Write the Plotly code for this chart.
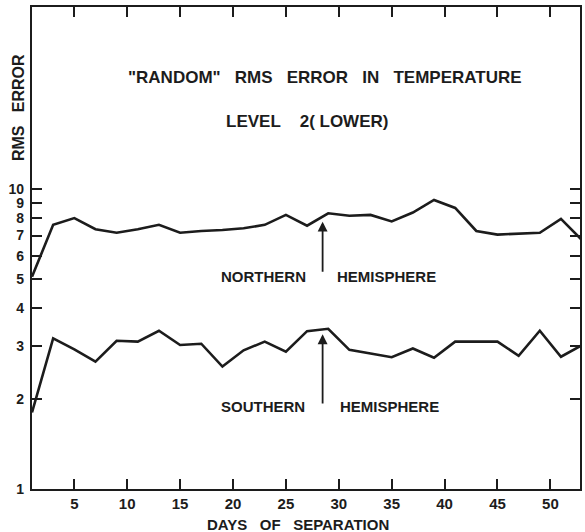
import plotly.graph_objects as go

# Days of separation (every second day)
days = [1, 3, 5, 7, 9, 11, 13, 15, 17, 19, 21, 23, 25, 27,
        29, 31, 33, 35, 37, 39, 41, 43, 45, 47, 49, 51, 53]

# RMS error, northern hemisphere
northern = [5.1, 7.6, 8.0, 7.35, 7.15, 7.35, 7.6, 7.15, 7.25, 7.3, 7.4, 7.6, 8.2, 7.55,
            8.3, 8.15, 8.2, 7.8, 8.35, 9.2, 8.65, 7.25, 7.05, 7.1, 7.15, 7.95, 6.75]

# RMS error, southern hemisphere
southern = [1.8, 3.18, 2.92, 2.66, 3.12, 3.1, 3.37, 3.02, 3.05, 2.56, 2.9, 3.1, 2.87, 3.36,
            3.42, 2.91, 2.83, 2.75, 2.94, 2.74, 3.1, 3.1, 3.1, 2.78, 3.37, 2.76, 3.02]

x_ticks = [5, 10, 15, 20, 25, 30, 35, 40, 45, 50]
y_ticks = [1, 2, 3, 4, 5, 6, 7, 8, 9, 10]
y_tick_labels = [str(v) for v in y_ticks]

INK = "#1c1c1c"
FONT = "Liberation Sans Narrow, Arial Narrow, Liberation Sans, sans-serif"
NB = "\u00a0"

fig = go.Figure()
for series in (northern, southern):
    fig.add_trace(go.Scatter(
        x=days, y=series, mode="lines",
        line=dict(color=INK, width=2.6),
        showlegend=False, hoverinfo="skip",
    ))

axis_common = dict(
    showline=True, linecolor=INK, linewidth=2.2, mirror="ticks",
    ticks="inside", ticklen=10, tickwidth=2, tickcolor=INK,
    showgrid=False, zeroline=False,
)

fig.update_xaxes(
    range=[1, 52.8], tickvals=x_ticks,
    tickfont=dict(family=FONT, size=15, color=INK, weight="bold"),
    **axis_common,
)
fig.update_yaxes(
    type="log", range=[0, 1.607], tickvals=y_ticks, ticktext=y_tick_labels,
    ticklabelstandoff=3,
    tickfont=dict(family=FONT, size=14, color=INK, weight="bold"),
    **axis_common,
)

def label(text, px, py, size=15, angle=0):
    # place text by pixel position inside the 585x532 page
    fig.add_annotation(
        text=text, xref="paper", yref="paper",
        x=(px - 32) / 550, y=(489 - py) / 482,
        showarrow=False, xanchor="center", yanchor="middle", textangle=angle,
        font=dict(family=FONT, size=size, color=INK, weight="bold"),
    )

label('"RANDOM"' + NB * 3 + "RMS" + NB * 3 + "ERROR" + NB * 3 + "IN" + NB * 3 + "TEMPERATURE", 326, 77, 17)
label("LEVEL" + NB * 4 + "2(" + NB + "LOWER)", 308, 121, 17)
label("NORTHERN", 264, 276)
label("HEMISPHERE", 388, 276)
label("SOUTHERN", 264, 406)
label("HEMISPHERE", 391, 406)
label("RMS" + NB * 3 + "ERROR", 18, 108, 16, angle=-90)
label("DAYS" + NB * 3 + "OF" + NB * 3 + "SEPARATION", 299, 524, 15)

# pointers to day 28.5
for tip_py, tail_py in ((221.7, 273.3), (334.3, 405.0)):
    fig.add_annotation(
        x=28.47, xref="x", y=(489 - tip_py) / 482, yref="paper",
        ax=0, ay=tail_py - tip_py, text="",
        showarrow=True, arrowhead=2, arrowsize=1.1, arrowwidth=1.8, arrowcolor=INK,
    )

fig.update_layout(
    width=585, height=532,
    margin=dict(l=32, r=3, t=7, b=43),
    paper_bgcolor="white", plot_bgcolor="white",
)

fig.write_html("out.html")
